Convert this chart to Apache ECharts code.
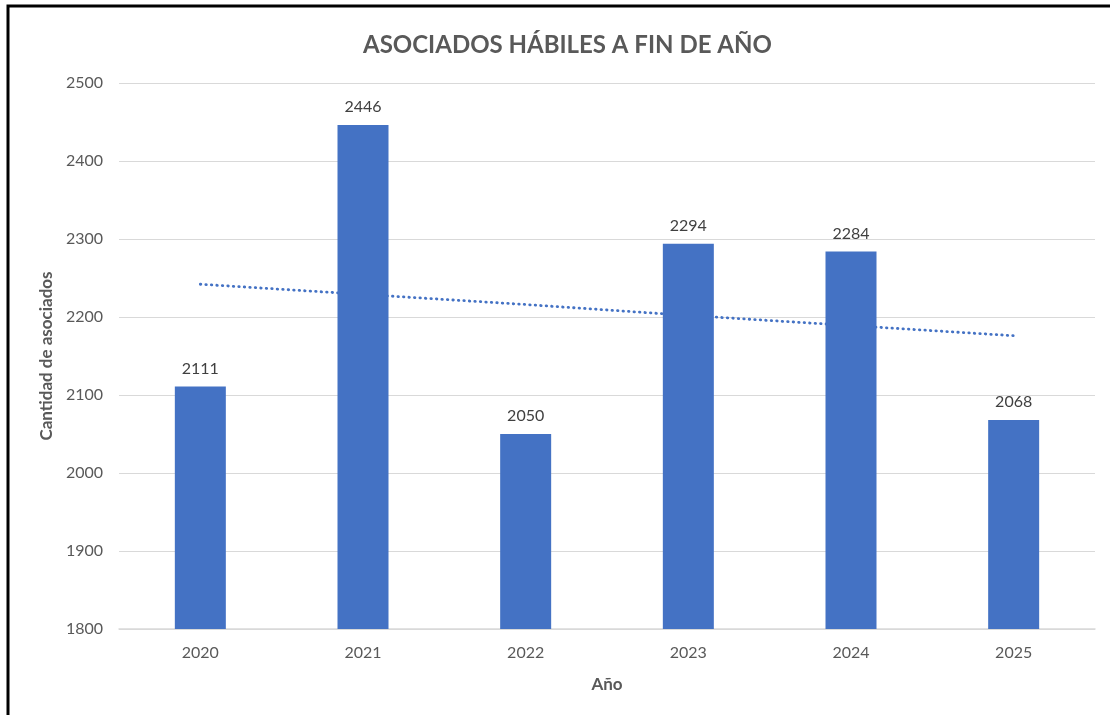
<!DOCTYPE html>
<html>
<head>
<meta charset="utf-8">
<title>Asociados hábiles a fin de año</title>
<script src="https://cdn.jsdelivr.net/npm/echarts@6/dist/echarts.min.js"></script>
<style>
  html, body { margin: 0; padding: 0; background: #fff; }
  #chart { width: 1110px; height: 715px; }
</style>
</head>
<body>
<div id="chart"></div>
<script>
// datos
const years = ['2020', '2021', '2022', '2023', '2024', '2025']
const associates = [2111, 2446, 2050, 2294, 2284, 2068]
// linea de tendencia
const trend = [2242, 2229, 2216, 2202, 2189, 2176]

const font = 'Lato, "Open Sans", sans-serif'
const gray = '#595959'

const chart = echarts.init(document.getElementById('chart'))
chart.setOption({
  backgroundColor: '#fff',
  textStyle: { fontFamily: font },
  title: {
    text: 'ASOCIADOS HÁBILES A FIN DE AÑO',
    left: 358,
    top: 28,
    textStyle: { fontSize: 24, fontWeight: 'bold', color: gray, fontFamily: font }
  },
  graphic: [{
    type: 'rect',
    shape: { x: 8, y: 6, width: 1300, height: 900 },
    style: { fill: 'none', stroke: '#000', lineWidth: 3 },
    z: 100
  }],
  grid: { left: 119, right: 15, top: 83, bottom: 86 },
  xAxis: {
    type: 'category',
    data: years,
    name: 'Año',
    nameLocation: 'middle',
    nameGap: 47,
    nameTextStyle: { fontSize: 17, fontWeight: 'bold', color: gray },
    axisLine: { lineStyle: { color: '#d9d9d9', width: 1.5 } },
    axisTick: { show: false },
    axisLabel: { fontSize: 16, color: gray, margin: 16 }
  },
  yAxis: {
    type: 'value',
    min: 1800,
    max: 2500,
    interval: 100,
    name: 'Cantidad de asociados',
    nameLocation: 'middle',
    nameGap: 63,
    nameTextStyle: { fontSize: 17, fontWeight: 'bold', color: gray },
    axisLine: { show: false },
    axisTick: { show: false },
    axisLabel: { fontSize: 16, color: gray, margin: 16, formatter: v => String(v) },
    splitLine: { lineStyle: { color: '#d9d9d9', width: 1 } }
  },
  series: [
    {
      name: 'Asociados',
      type: 'bar',
      data: associates,
      barWidth: 51,
      z: 3,
      itemStyle: { color: '#4472C4' },
      label: {
        show: true,
        position: 'top',
        distance: 10,
        fontSize: 16,
        color: '#404040'
      }
    },
    {
      name: 'Tendencia',
      type: 'line',
      data: trend,
      symbol: 'none',
      z: 2,
      lineStyle: { type: [0.5, 5], cap: 'round', width: 2.8, color: '#4472C4' }
    }
  ]
})
</script>
</body>
</html>
